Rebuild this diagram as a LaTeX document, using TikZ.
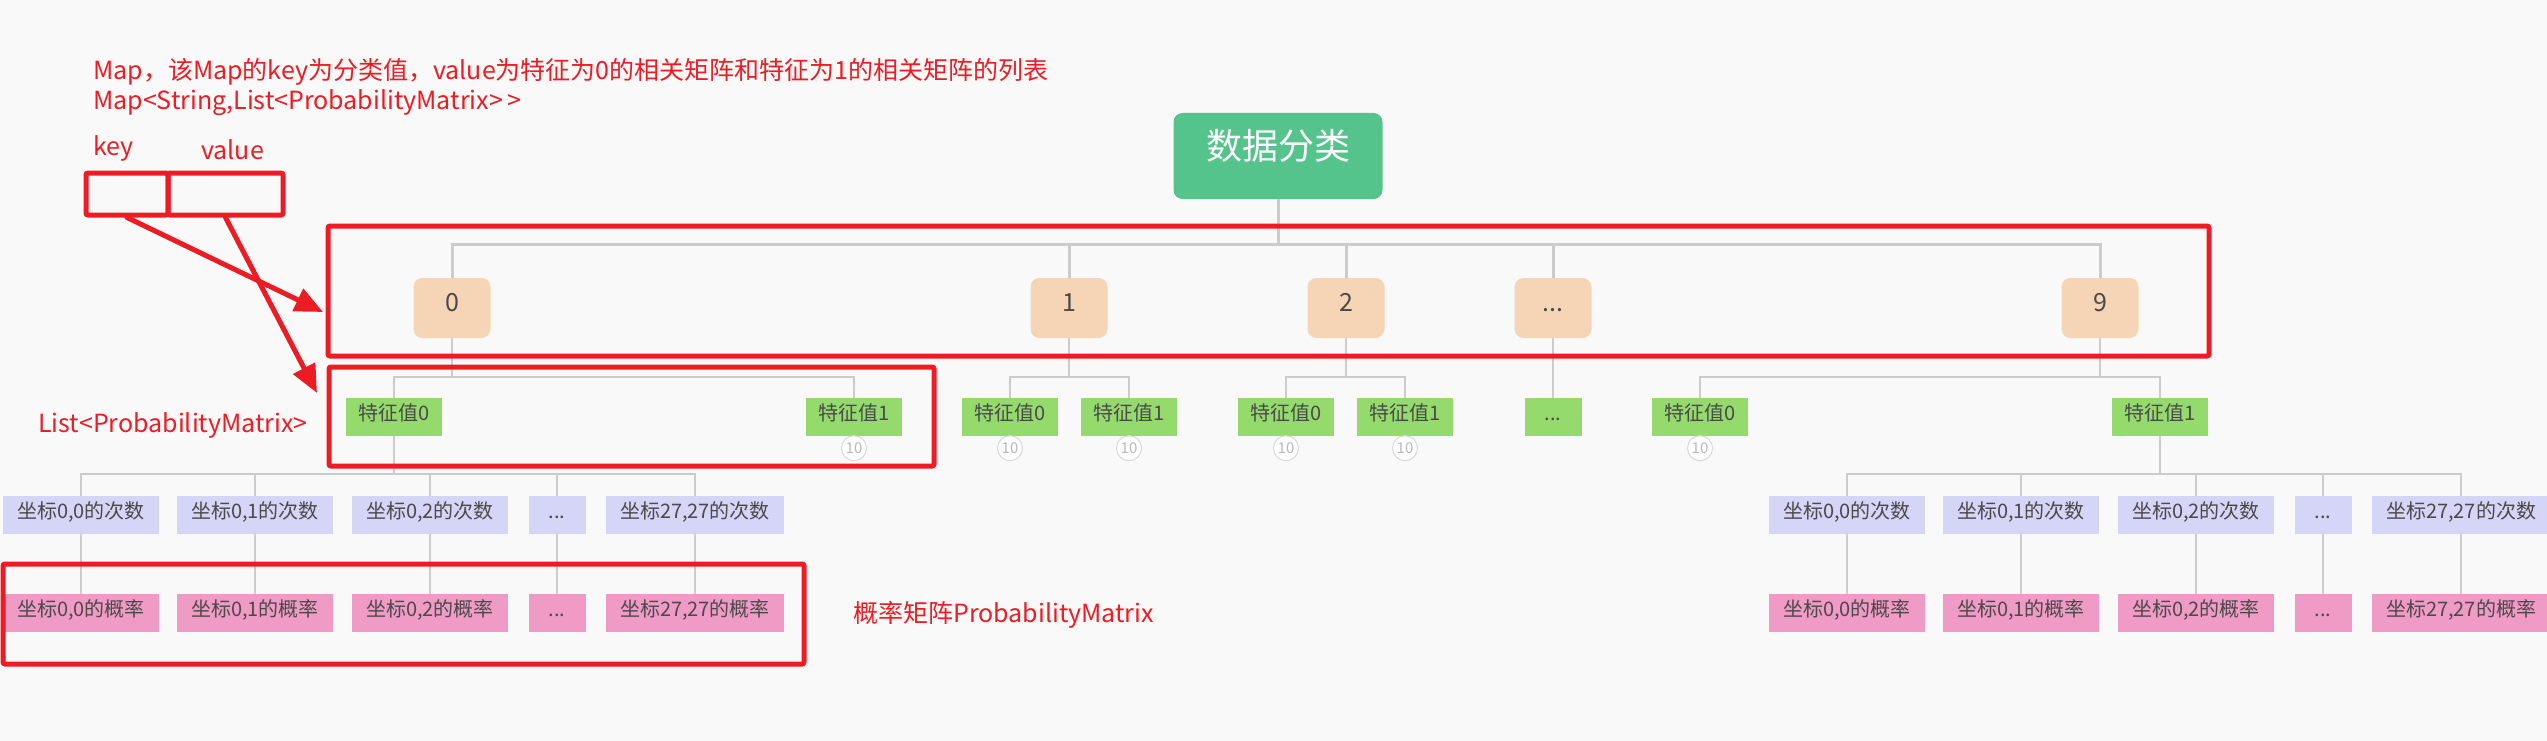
\documentclass[tikz,border=0pt]{standalone}
\usepackage{fontspec}
\setmainfont{Noto Sans CJK SC}
\usetikzlibrary{arrows.meta}

\definecolor{mred}{HTML}{ED1C24}
\definecolor{rootgreen}{HTML}{55C48C}
\definecolor{classorange}{HTML}{F6D5B6}
\definecolor{featgreen}{HTML}{95DA6C}
\definecolor{cntblue}{HTML}{D4D5F7}
\definecolor{probpink}{HTML}{F09AC6}
\definecolor{linkgray}{HTML}{CCCCCC}
\definecolor{txtgray}{HTML}{4A4A4A}
\definecolor{bggray}{HTML}{F9F9F9}

\newcommand{\dotdotdot}{.{}.{}.}

\tikzset{
  cell/.style={inner sep=0pt, text height=0.88em, text depth=0.12em, text=txtgray, font=\fontsize{20pt}{24pt}\selectfont},
  rootbox/.style={cell, fill=rootgreen, rounded corners=9pt, minimum width=209pt, minimum height=86pt, text=white, font=\fontsize{36pt}{40pt}\selectfont},
  classbox/.style={cell, fill=classorange, rounded corners=9pt, minimum width=77pt, minimum height=60pt, font=\fontsize{25pt}{28pt}\selectfont},
  featbox/.style={cell, fill=featgreen, minimum width=96pt, minimum height=38pt},
  cntbox/.style={cell, fill=cntblue, minimum width=152pt, minimum height=38pt, inner xsep=14pt},
  probbox/.style={cntbox, fill=probpink},
  dotbox/.style={minimum width=57pt},
  badge/.style={circle, draw=gray!30, fill=white, line width=1pt, minimum size=25pt, inner sep=0pt, text=gray!55, font=\fontsize{15pt}{17pt}\selectfont},
  link/.style={draw=linkgray, line width=2pt},
  redframe/.style={draw=mred, line width=5pt, rounded corners=2pt},
  pointer/.style={draw=mred, line width=5pt, line cap=round, -{Triangle[length=28pt,width=24pt]}},
  note/.style={anchor=west, inner sep=0pt, text=mred, font=\fontsize{25pt}{29pt}\selectfont}
}

\begin{document}
\begin{tikzpicture}[x=1pt, y=-1pt]
  \useasboundingbox (0,0) rectangle (2547,741);
  \fill[bggray] (0,0) rectangle (2547,741);

  \node[note] (tmap) at (93,72) {Map，该Map的key为分类值，value为特征为0的相关矩阵和特征为1的相关矩阵的列表};
  \node[note] (tsig) at (93,103) {Map<String,List<ProbabilityMatrix>{}\,>};
  \node[note] (tkey) at (93,148) {key};
  \node[note] (tval) at (201,150) {value};
  \node[note] (tlist) at (38,425) {List<ProbabilityMatrix>};
  \node[note] (tmatrix) at (853,615) {概率矩阵ProbabilityMatrix};

  \node[rootbox] (root) at (1278,156) {数据分类};
  \node[classbox] (k0) at (452,308) {0};
  \node[classbox] (k1) at (1069,308) {1};
  \node[classbox] (k2) at (1346,308) {2};
  \node[classbox] (kd) at (1553,308) {\dotdotdot};
  \node[classbox] (k9) at (2100,308) {9};
  \foreach \n in {k0,k1,k2,kd,k9}
    \draw[link, line width=3pt] (root.south) -- ++(0,45) -| (\n.north);

  \node[featbox] (f00) at (394,417) {特征值0};
  \node[featbox] (f01) at (854,417) {特征值1};
  \node[featbox] (f10) at (1010,417) {特征值0};
  \node[featbox] (f11) at (1129,417) {特征值1};
  \node[featbox] (f20) at (1286,417) {特征值0};
  \node[featbox] (f21) at (1405,417) {特征值1};
  \node[featbox, dotbox] (fd) at (1553,417) {\dotdotdot};
  \node[featbox] (f90) at (1700,417) {特征值0};
  \node[featbox] (f91) at (2160,417) {特征值1};
  \foreach \src/\n in {k0/f00,k0/f01,k1/f10,k1/f11,k2/f20,k2/f21,kd/fd,k9/f90,k9/f91}
    \draw[link] (\src.south) -- ++(0,39) -| (\n.north);
  \foreach \n in {f01,f10,f11,f20,f21,f90}
    \node[badge] (b\n) at ([yshift=-12pt]\n.south) {10};

  \foreach \grp/\src/\ox in {l/f00/0, r/f91/1766} {
    \node[cntbox] (\grp c0) at (81+\ox,515) {坐标0,0的次数};
    \node[cntbox] (\grp c1) at (255+\ox,515) {坐标0,1的次数};
    \node[cntbox] (\grp c2) at (430+\ox,515) {坐标0,2的次数};
    \node[cntbox, dotbox] (\grp c3) at (557+\ox,515) {\dotdotdot};
    \node[cntbox] (\grp c4) at (695+\ox,515) {坐标27,27的次数};
    \node[probbox] (\grp p0) at (81+\ox,613) {坐标0,0的概率};
    \node[probbox] (\grp p1) at (255+\ox,613) {坐标0,1的概率};
    \node[probbox] (\grp p2) at (430+\ox,613) {坐标0,2的概率};
    \node[probbox, dotbox] (\grp p3) at (557+\ox,613) {\dotdotdot};
    \node[probbox] (\grp p4) at (695+\ox,613) {坐标27,27的概率};
    \foreach \i in {0,...,4} {
      \draw[link] (\src.south) -- ++(0,38) -| (\grp c\i.north);
      \draw[link] (\grp c\i) -- (\grp p\i);
    }
  }

  \draw[redframe] (328,226) rectangle (2209,356);
  \draw[redframe] (329,367) rectangle (934,466);
  \draw[redframe] (3,564) rectangle (804,664);
  \node[redframe, minimum width=82pt, minimum height=42pt] (keybox) at (127,194) {};
  \node[redframe, minimum width=115pt, minimum height=42pt] (valbox) at (225.5,194) {};
  \coordinate (keytip) at (323,312);
  \coordinate (valtip) at (317,393);
  \draw[pointer] (keybox.south) -- (keytip);
  \draw[pointer] (valbox.south) -- (valtip);
\end{tikzpicture}
\end{document}
